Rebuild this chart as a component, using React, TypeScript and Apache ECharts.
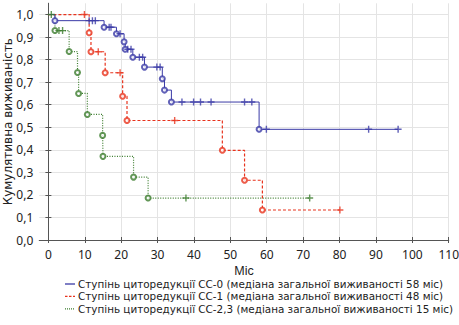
import React, { useEffect, useRef } from "react";
import * as echarts from "echarts";

const xTicks = [0, 10, 20, 30, 40, 50, 60, 70, 80, 90, 100, 110];
const yTicks = [0, 0.1, 0.2, 0.3, 0.4, 0.5, 0.6, 0.7, 0.8, 0.9, 1.0];

const seriesNames = [
  "Ступінь циторедукції СС-0 (медіана загальної виживаності 58 міс)",
  "Ступінь циторедукції СС-1 (медіана загальної виживаності 48 міс)",
  "Ступінь циторедукції СС-2,3 (медіана загальної виживаності 15 міс)",
];
const colors = ["#3a3aa6", "#e8331d", "#3c7d2e"];

// [time, survival] at each event (circle)
const cc0Events = [
  [1.8, 0.973], [15.3, 0.944], [18.7, 0.915], [20.8, 0.879], [21.1, 0.846],
  [23.2, 0.811], [26.4, 0.767], [31.3, 0.715], [31.9, 0.665], [33.8, 0.612],
  [57.9, 0.491],
];
// censored (crosses)
const cc0Censored = [
  [11.2, 0.973], [12.1, 0.973], [12.9, 0.973], [16.7, 0.944], [17.2, 0.944],
  [19.7, 0.915], [21.8, 0.846], [22.7, 0.846], [25.0, 0.811], [25.9, 0.811],
  [29.8, 0.767], [30.7, 0.767], [36.7, 0.612], [39.9, 0.612], [41.8, 0.612],
  [44.7, 0.612], [53.9, 0.612], [55.9, 0.612], [59.9, 0.491], [88.0, 0.491],
  [96.1, 0.491],
];

const cc1Events = [
  [11.2, 0.919], [11.7, 0.835], [15.6, 0.742], [20.4, 0.638], [21.6, 0.53],
  [47.8, 0.398], [53.9, 0.265], [58.8, 0.133],
];
const cc1Censored = [
  [9.9, 1.0], [13.7, 0.835], [19.7, 0.742], [34.7, 0.53], [80.1, 0.133],
];

const cc23Events = [
  [1.8, 0.929], [5.7, 0.836], [8.0, 0.743], [8.3, 0.65], [10.7, 0.557],
  [14.9, 0.464], [15.0, 0.371], [23.4, 0.279], [27.4, 0.186],
];
const cc23Censored = [
  [0.8, 1.0], [2.9, 0.929], [3.9, 0.929], [37.8, 0.186], [71.8, 0.186],
];

const xName = "Міс";
const yName = "Кумулятивна виживаність";

const groups = [
  { events: cc0Events, censored: cc0Censored, dash: "solid" },
  { events: cc1Events, censored: cc1Censored, dash: [3, 2] },
  { events: cc23Events, censored: cc23Censored, dash: [1, 1.5] },
];

const plusSymbol = "path://M4,0H6V4H10V6H6V10H4V6H0V4H4Z";

function kmLine(events: number[][], censored: number[][]) {
  return [[0, 1], ...events, ...censored].sort((a, b) => a[0] - b[0]);
}

export default function App() {
  const ref = useRef<HTMLDivElement>(null);
  useEffect(() => {
    if (!ref.current) return;
    const chart = echarts.init(ref.current, null, { renderer: "svg" });
    const font = "Noto Sans";
    const dv = "DejaVu Sans";
    const series: any[] = [];
    groups.forEach((g, i) => {
      series.push({
        type: "line",
        name: seriesNames[i],
        data: kmLine(g.events, g.censored),
        step: "end",
        symbol: "none",
        lineStyle: { color: colors[i], width: i === 0 ? 1 : 1.2, type: g.dash },
        z: 3 - i,
      });
      series.push({
        type: "scatter",
        data: g.events,
        symbol: "emptyCircle",
        symbolSize: 5,
        itemStyle: { color: colors[i], borderColor: colors[i], borderWidth: 1.1 },
        z: 6 - i,
      });
      series.push({
        type: "scatter",
        data: g.censored,
        symbol: plusSymbol,
        symbolSize: 7,
        itemStyle: { color: colors[i] },
        z: 6 - i,
      });
    });

    const graphics: any[] = [
      {
        type: "text",
        x: 7.8,
        y: 121.7,
        rotation: Math.PI / 2,
        style: {
          text: yName,
          fill: "#222",
          font: `12px "${dv}"`,
          textAlign: "center",
          textVerticalAlign: "middle",
        },
      },
    ];
    seriesNames.forEach((n, i) => {
      const y = 284 + i * 12.4;
      graphics.push({
        type: "line",
        shape: { x1: 65, y1: y, x2: 75, y2: y },
        style: {
          stroke: colors[i],
          lineWidth: 1.3,
          lineDash: i === 0 ? null : i === 1 ? [2.5, 1.5] : [1, 1],
        },
      });
      graphics.push({
        type: "text",
        x: 78,
        y: y,
        style: {
          text: n,
          fill: "#222",
          font: `10.4px "${dv}"`,
          lineHeight: 12,
          verticalAlign: "middle",
        },
      });
    });

    const axisLineStyle = { color: "#555", width: 1 };
    chart.setOption({
      animation: false,
      grid: { left: 39.3, right: 10.3, top: 3.3, bottom: 85, containLabel: false, outerBoundsMode: "none" },
      xAxis: [
        {
          type: "value",
          min: -2.5,
          max: 110,
          name: xName,
          nameLocation: "middle",
          nameGap: 25,
          nameTextStyle: { fontFamily: "Liberation Sans", fontSize: 12.5, color: "#222", lineHeight: 12 },
          axisLine: { show: true, lineStyle: axisLineStyle },
          axisTick: { show: true, inside: true, length: 3, customValues: xTicks, lineStyle: axisLineStyle },
          axisLabel: { customValues: xTicks, margin: 8, fontFamily: font, fontSize: 12, color: "#222", lineHeight: 12 },
          splitLine: { show: true, lineStyle: { color: "#e4e4e4", width: 1 } },
        },
        {
          type: "value",
          position: "top",
          min: -2.5,
          max: 110,
          axisLine: { show: true, lineStyle: axisLineStyle },
          axisTick: { show: true, inside: true, length: 3, customValues: xTicks, lineStyle: axisLineStyle },
          axisLabel: { show: false },
          splitLine: { show: false },
        },
      ],
      yAxis: [
        {
          type: "value",
          min: 0,
          max: 1.05,
          axisLine: { show: true, lineStyle: axisLineStyle },
          axisTick: { show: true, inside: true, length: 3, customValues: yTicks, lineStyle: axisLineStyle },
          axisLabel: {
            customValues: yTicks,
            margin: 6,
            fontFamily: font,
            fontSize: 12,
            color: "#222",
            formatter: (v: number) => v.toFixed(1).replace(".", ","),
          },
          splitLine: { show: true, lineStyle: { color: "#e4e4e4", width: 1 } },
        },
        {
          type: "value",
          position: "right",
          min: 0,
          max: 1.05,
          axisLine: { show: true, lineStyle: axisLineStyle },
          axisTick: { show: true, inside: true, length: 3, customValues: yTicks, lineStyle: axisLineStyle },
          axisLabel: { show: false },
          splitLine: { show: false },
        },
      ],
      series,
      graphic: graphics,
    });
    return () => chart.dispose();
  }, []);
  return <div ref={ref} style={{ width: 459, height: 325, position: "absolute", left: 0, top: 0 }} />;
}
